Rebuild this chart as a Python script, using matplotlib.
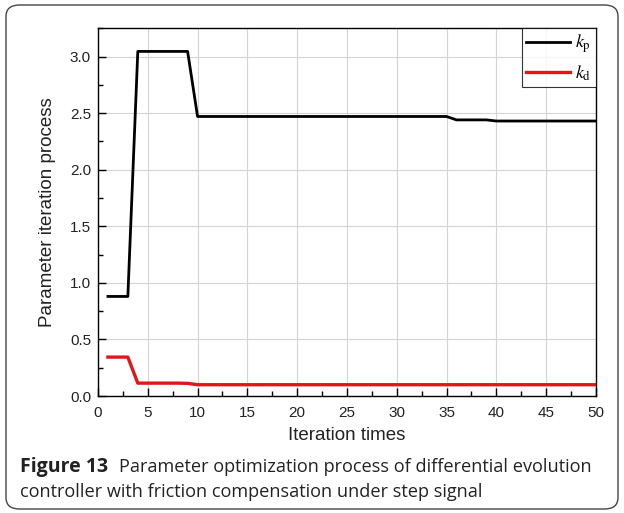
import matplotlib
matplotlib.use("Agg")
import matplotlib.pyplot as plt
from matplotlib.patches import FancyBboxPatch
from matplotlib.ticker import MultipleLocator

plt.rcParams['mathtext.fontset'] = 'stix'

# iteration number and the two parameters
iters = list(range(1, 51))
kp = [0.88, 0.88, 0.88, 3.045, 3.045, 3.045, 3.045, 3.045, 3.045, 2.47,
      2.47, 2.47, 2.47, 2.47, 2.47, 2.47, 2.47, 2.47, 2.47, 2.47,
      2.47, 2.47, 2.47, 2.47, 2.47, 2.47, 2.47, 2.47, 2.47, 2.47,
      2.47, 2.47, 2.47, 2.47, 2.47, 2.44, 2.44, 2.44, 2.44, 2.43,
      2.43, 2.43, 2.43, 2.43, 2.43, 2.43, 2.43, 2.43, 2.43, 2.43]
kd = [0.344, 0.344, 0.344, 0.114, 0.114, 0.114, 0.114, 0.114, 0.112, 0.10,
      0.10, 0.10, 0.10, 0.10, 0.10, 0.10, 0.10, 0.10, 0.10, 0.10,
      0.10, 0.10, 0.10, 0.10, 0.10, 0.10, 0.10, 0.10, 0.10, 0.10,
      0.10, 0.10, 0.10, 0.10, 0.10, 0.10, 0.10, 0.10, 0.10, 0.10,
      0.10, 0.10, 0.10, 0.10, 0.10, 0.10, 0.10, 0.10, 0.10, 0.10]

fig = plt.figure(figsize=(6.24, 5.13), dpi=100)
ax = fig.add_axes([0.157, 0.228, 0.798, 0.717])

ax.plot(iters, kp, color='black', lw=2, label=r'$k_{\mathrm{p}}$')
ax.plot(iters, kd, color='#e0161b', lw=2.4, label=r'$k_{\mathrm{d}}$')

ax.set_xlim(0, 50)
ax.set_ylim(0, 3.25)
ax.xaxis.set_major_locator(MultipleLocator(5))
ax.xaxis.set_minor_locator(MultipleLocator(2.5))
ax.yaxis.set_major_locator(MultipleLocator(0.5))
ax.yaxis.set_minor_locator(MultipleLocator(0.25))
ax.tick_params(which='both', direction='in', colors='black', labelcolor='#222222',
               labelsize=11, width=1)
ax.tick_params(which='major', length=6)
ax.tick_params(which='minor', length=3.5)
ax.tick_params(axis='x', pad=7)
ax.tick_params(axis='y', pad=5)
for lab in ax.get_xticklabels() + ax.get_yticklabels():
    lab.set_family('Liberation Sans')
ax.grid(True, color='#d4d4d4', lw=0.8)
ax.set_axisbelow(True)
for s in ax.spines.values():
    s.set_linewidth(1)

ax.set_xlabel('Iteration times', family='Liberation Sans', fontsize=13.5, color='#222222', labelpad=5)
ax.set_ylabel('Parameter iteration process', family='Liberation Sans', fontsize=13.5,
              color='#222222', labelpad=10)

leg = ax.legend(loc='upper right', fontsize=13, frameon=True, fancybox=False,
                borderaxespad=0, handlelength=2.4, borderpad=0.25, labelspacing=0.45,
                handletextpad=0.3)
leg.get_frame().set_edgecolor('black')
leg.get_frame().set_linewidth(0.8)

# rounded frame around the whole figure
frame = FancyBboxPatch((6 / 624, 4 / 513), 612 / 624, 504 / 513,
                       boxstyle='round,pad=0,rounding_size=0.022',
                       transform=fig.transFigure, fill=False,
                       edgecolor='#444444', lw=1.0)
fig.patches.append(frame)

# caption
cap_y1 = 1 - 467 / 513
cap_y2 = 1 - 492 / 513
t1 = fig.text(20 / 624, cap_y1, 'Figure 13', family='Open Sans', fontweight='bold',
              fontsize=14, color='#222222', va='center')
fig.canvas.draw()
bb = t1.get_window_extent()
fig.text(bb.x1 / 624 + 11 / 624, cap_y1,
         'Parameter optimization process of differential evolution',
         family='Open Sans', fontsize=13.1, color='#222222', va='center')
fig.text(20 / 624, cap_y2, 'controller with friction compensation under step signal',
         family='Open Sans', fontsize=13.1, color='#222222', va='center')

fig.savefig('out.png', dpi=100)
